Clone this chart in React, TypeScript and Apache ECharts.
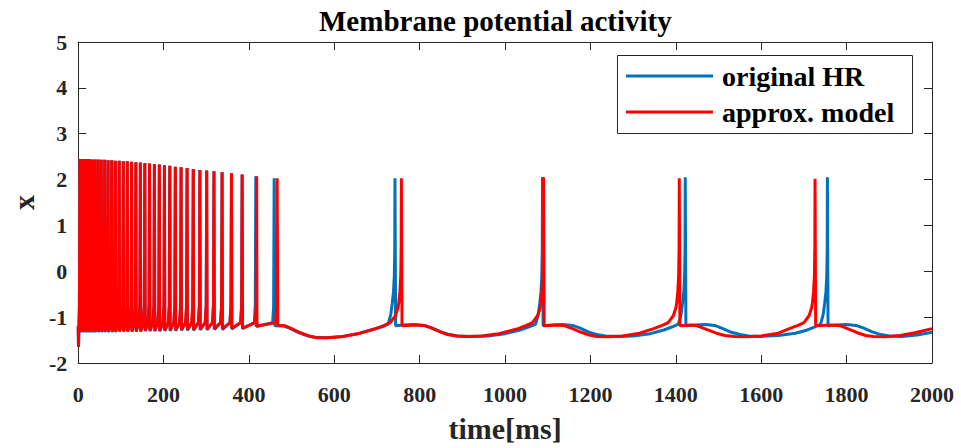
import React, { useEffect, useRef } from "react";
import * as echarts from "echarts";

const TITLE = "Membrane potential activity";
const X_NAME = "time[ms]";
const Y_NAME = "x";
const SERIES_NAMES = ["original HR", "approx. model"];
const COLORS = ["#0072BD", "#FF0000"];
const FONT = "Liberation Serif";
const AXIS_COLOR = "#262626";

const X_MIN = 0;
const X_MAX = 2000;
const X_STEP = 200;
const Y_MIN = -2;
const Y_MAX = 5;
const Y_STEP = 1;

// Opening dip at t = 0 before the first spike
const startTrace: number[][] = [
  [0, -1.2],
  [0.6, -1.65],
];

// Tonic spiking phase, common to both models: spike times (ms) and peak values
const burstTimes = [
  4, 11, 18, 25, 32, 39, 46.5, 54, 62, 70, 78.5, 87, 96, 105.5, 115, 125, 135,
  145.5, 156, 167, 178.5, 190, 202, 214.5, 227.5, 241, 255, 269.5, 285, 301,
  318, 337, 359, 384,
];
const burstPeaks = [
  2.45, 2.45, 2.45, 2.45, 2.44, 2.44, 2.44, 2.43, 2.43, 2.42, 2.42, 2.41, 2.41,
  2.4, 2.4, 2.39, 2.38, 2.37, 2.36, 2.35, 2.34, 2.33, 2.31, 2.3, 2.28, 2.27,
  2.25, 2.23, 2.21, 2.2, 2.18, 2.16, 2.14, 2.11,
];
// After-spike minima of each series
const hrBurstTroughs = [
  -1.33, -1.33, -1.33, -1.33, -1.33, -1.33, -1.33, -1.33, -1.33, -1.33, -1.33,
  -1.33, -1.32, -1.32, -1.32, -1.32, -1.32, -1.32, -1.31, -1.31, -1.31, -1.31,
  -1.3, -1.3, -1.3, -1.29, -1.29, -1.29, -1.28, -1.28, -1.27, -1.27, -1.26,
  -1.25,
];
const apxBurstTroughs = [
  -1.31, -1.31, -1.31, -1.31, -1.31, -1.31, -1.31, -1.31, -1.31, -1.31, -1.31,
  -1.31, -1.3, -1.3, -1.3, -1.3, -1.3, -1.3, -1.29, -1.29, -1.29, -1.29, -1.28,
  -1.28, -1.28, -1.27, -1.27, -1.27, -1.26, -1.26, -1.25, -1.25, -1.24, -1.24,
];
// last spikes of the tonic phase, where the two models part
const hrTailTimes = [416, 459];
const hrTailPeaks = [2.07, 2.03];
const hrTailTroughs = [-1.2];
const apxTailTimes = [418, 466];
const apxTailPeaks = [2.07, 2.03];
const apxTailTroughs = [-1.2];

// Membrane level just before an upstroke
const KNEE = -1.12;
const PRE = -0.75;

// Slow bursting regime, [t, x]
const hrSlow: number[][] = [
  [460.5, -1.19], [470, -1.18], [480, -1.19], [495, -1.24], [515, -1.33],
  [535, -1.4], [555, -1.44], [580, -1.45], [615, -1.43], [655, -1.36],
  [690, -1.27], [712, -1.21], [726, -1.15], [732, -0.95], [735.6, -0.7],
  [738.5, -0.45], [740.5, -0.1], [741.5, 0.5], [742, 2.03],
  [743.5, -1.19], [760, -1.17], [785, -1.16], [812, -1.18], [830, -1.24],
  [850, -1.32], [870, -1.38], [890, -1.41], [920, -1.42], [960, -1.41],
  [1000, -1.36], [1035, -1.28], [1056, -1.21], [1071.5, -1.15],
  [1077.5, -0.95], [1081.1, -0.7], [1084, -0.45], [1086, -0.1], [1087, 0.5],
  [1087.5, 2.05],
  [1089, -1.19], [1110, -1.17], [1135, -1.16], [1158, -1.18], [1176, -1.24],
  [1195, -1.32], [1215, -1.38], [1235, -1.41], [1265, -1.42], [1300, -1.41],
  [1340, -1.36], [1372, -1.28], [1392, -1.21], [1406, -1.15], [1412, -0.95],
  [1415.6, -0.7], [1418.5, -0.45], [1420.5, -0.1], [1421.5, 0.5], [1422, 2.05],
  [1423.5, -1.19], [1445, -1.17], [1470, -1.16], [1491, -1.18], [1510, -1.25],
  [1530, -1.33], [1550, -1.38], [1570, -1.41], [1600, -1.42], [1640, -1.4],
  [1680, -1.35], [1708, -1.28], [1726, -1.21], [1739, -1.15], [1745, -0.95],
  [1748.6, -0.7], [1751.5, -0.45], [1753.5, -0.1], [1754.5, 0.5], [1755, 2.05],
  [1756.5, -1.19], [1775, -1.17], [1800, -1.16], [1822, -1.18], [1840, -1.24],
  [1860, -1.32], [1880, -1.38], [1900, -1.41], [1930, -1.42], [1965, -1.39],
  [2000, -1.33],
];
const apxSlow: number[][] = [
  [467.5, -1.19], [475, -1.18], [485, -1.19], [500, -1.25], [520, -1.34],
  [540, -1.41], [559, -1.45], [585, -1.45], [620, -1.42], [660, -1.35],
  [697, -1.25], [717, -1.18], [731, -1.12], [743, -0.97], [749, -0.8],
  [751, -0.68], [753.5, -0.45], [755.5, -0.1], [756.5, 0.5], [757, 2.03],
  [758.5, -1.19], [770, -1.18], [790, -1.17], [808, -1.18], [825, -1.23],
  [845, -1.31], [865, -1.38], [885, -1.41], [910, -1.42], [945, -1.41],
  [985, -1.36], [1030, -1.25], [1050, -1.18], [1064, -1.12], [1076, -0.97],
  [1082, -0.8], [1084, -0.68], [1086.5, -0.45], [1088.5, -0.1], [1089.5, 0.5],
  [1090, 2.05],
  [1091.5, -1.19], [1105, -1.18], [1122, -1.17], [1140, -1.19], [1158, -1.25],
  [1178, -1.33], [1197, -1.39], [1215, -1.42], [1240, -1.43], [1275, -1.41],
  [1315, -1.35], [1348, -1.25], [1368, -1.18], [1382, -1.12], [1394, -0.97],
  [1400, -0.8], [1402, -0.68], [1404.5, -0.45], [1406.5, -0.1], [1407.5, 0.5],
  [1408, 2.03],
  [1409.5, -1.19], [1420, -1.18], [1435, -1.17], [1450, -1.19], [1470, -1.26],
  [1495, -1.35], [1515, -1.4], [1537, -1.42], [1565, -1.43], [1600, -1.41],
  [1640, -1.35], [1666, -1.25], [1686, -1.18], [1700, -1.12], [1712, -0.97],
  [1718, -0.8], [1720, -0.68], [1722.5, -0.45], [1724.5, -0.1], [1725.5, 0.5],
  [1726, 2.02],
  [1727.5, -1.19], [1740, -1.18], [1762, -1.17], [1786, -1.19], [1805, -1.26],
  [1825, -1.34], [1845, -1.4], [1863, -1.42], [1890, -1.43], [1925, -1.4],
  [1960, -1.34], [2000, -1.25],
];

// Join the spike list into one polyline: upstroke, peak, after-spike minimum.
function buildTrace(
  times: number[],
  peaks: number[],
  troughs: number[],
  slow: number[][]
): number[][] {
  const pts: number[][] = startTrace.map((p) => [...p]);
  times.forEach((t, i) => {
    if (i > 0) pts.push([t - 3.5, KNEE]);
    pts.push([t - 1.2, PRE]);
    pts.push([t, peaks[i]]);
    if (i < times.length - 1) pts.push([t + 0.8, troughs[i]]);
  });
  return pts.concat(slow);
}

const hrTrace = buildTrace(
  [...burstTimes, ...hrTailTimes],
  [...burstPeaks, ...hrTailPeaks],
  [...hrBurstTroughs, ...hrTailTroughs],
  hrSlow
);
const apxTrace = buildTrace(
  [...burstTimes, ...apxTailTimes],
  [...burstPeaks, ...apxTailPeaks],
  [...apxBurstTroughs, ...apxTailTroughs],
  apxSlow
);

const tickLabel = {
  fontFamily: FONT,
  fontWeight: "bold" as const,
  fontSize: 22,
  color: AXIS_COLOR,
  formatter: (v: number) => String(v),
};

function frameAxis(position: string) {
  return {
    position,
    axisLine: { show: true, onZero: false, lineStyle: { color: AXIS_COLOR, width: 1 } },
    axisTick: { show: true, inside: true, length: 8, lineStyle: { color: AXIS_COLOR, width: 1 } },
    splitLine: { show: false },
  };
}

const nameStyle = {
  fontFamily: FONT,
  fontWeight: "bold" as const,
  fontSize: 30,
  color: AXIS_COLOR,
};

export default function App() {
  const ref = useRef<HTMLDivElement>(null);

  useEffect(() => {
    if (!ref.current) return;
    const chart = echarts.init(ref.current, null, { renderer: "svg" });

    const legendItems = [
      { y: 76, color: COLORS[0], text: SERIES_NAMES[0] },
      { y: 112, color: COLORS[1], text: SERIES_NAMES[1] },
    ];

    chart.setOption({
      animation: false,
      backgroundColor: "#ffffff",
      textStyle: { fontFamily: FONT },
      title: {
        text: TITLE,
        left: 314,
        top: 1,
        textStyle: {
          fontFamily: FONT,
          fontWeight: "bold",
          fontSize: 29,
          color: "#000000",
        },
      },
      grid: { left: 73, right: 29, top: 42, bottom: 84 },
      xAxis: [
        {
          type: "value",
          min: X_MIN,
          max: X_MAX,
          interval: X_STEP,
          ...frameAxis("bottom"),
          axisLabel: { ...tickLabel, margin: 20 },
          name: X_NAME,
          nameLocation: "middle",
          nameGap: 50,
          nameTextStyle: nameStyle,
        },
        {
          type: "value",
          min: X_MIN,
          max: X_MAX,
          interval: X_STEP,
          ...frameAxis("top"),
          axisLabel: { show: false },
        },
      ],
      yAxis: [
        {
          type: "value",
          min: Y_MIN,
          max: Y_MAX,
          interval: Y_STEP,
          ...frameAxis("left"),
          axisLabel: { ...tickLabel, margin: 11, padding: [4, 0, 0, 0] },
          name: Y_NAME,
          nameLocation: "middle",
          nameGap: 38,
          nameTextStyle: nameStyle,
        },
        {
          type: "value",
          min: Y_MIN,
          max: Y_MAX,
          interval: Y_STEP,
          ...frameAxis("right"),
          axisLabel: { show: false },
        },
      ],
      series: [
        {
          name: SERIES_NAMES[0],
          type: "line",
          data: hrTrace,
          showSymbol: false,
          symbol: "none",
          lineStyle: { color: COLORS[0], width: 3 },
          itemStyle: { color: COLORS[0] },
          xAxisIndex: 0,
          yAxisIndex: 0,
          z: 2,
        },
        {
          name: SERIES_NAMES[1],
          type: "line",
          data: apxTrace,
          showSymbol: false,
          symbol: "none",
          lineStyle: { color: COLORS[1], width: 3 },
          itemStyle: { color: COLORS[1] },
          xAxisIndex: 0,
          yAxisIndex: 0,
          z: 3,
        },
      ],
      graphic: [
        {
          type: "rect",
          z: 100,
          shape: { x: 617.5, y: 55.5, width: 295, height: 78 },
          style: { fill: "#ffffff", stroke: AXIS_COLOR, lineWidth: 1 },
        },
        ...legendItems.flatMap((it) => [
          {
            type: "line",
            z: 101,
            shape: { x1: 626, y1: it.y, x2: 713, y2: it.y },
            style: { stroke: it.color, lineWidth: 3 },
          },
          {
            type: "text",
            z: 101,
            x: 722,
            y: it.y,
            style: {
              text: it.text,
              fontFamily: FONT,
              fontWeight: "bold",
              fontSize: 28,
              fill: "#000000",
              verticalAlign: "middle",
              align: "left",
            },
          },
        ]),
      ],
    });

    return () => chart.dispose();
  }, []);

  return (
    <div
      ref={ref}
      style={{ position: "fixed", left: 0, top: 0, width: 961, height: 448 }}
    />
  );
}
